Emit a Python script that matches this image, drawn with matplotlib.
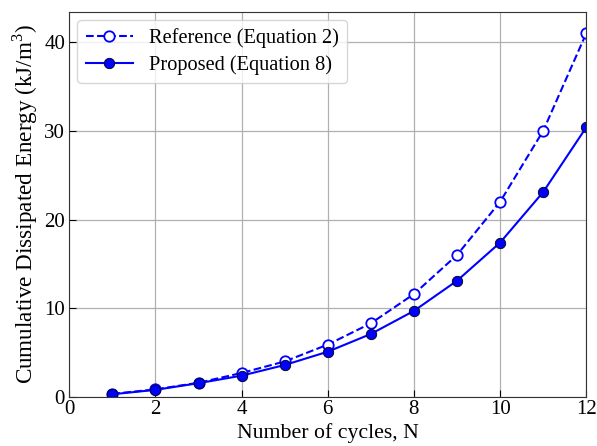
import matplotlib
matplotlib.use("Agg")
import matplotlib.pyplot as plt
import numpy as np

# Cycle numbers and cumulative dissipated energy (kJ/m^3)
cycles = np.arange(1, 13)
energy_reference = [0.35, 0.85, 1.6, 2.7, 4.0, 5.9, 8.3, 11.6, 16.0, 22.0, 30.0, 41.0]
energy_proposed = [0.3, 0.8, 1.55, 2.4, 3.6, 5.1, 7.1, 9.7, 13.1, 17.4, 23.1, 30.4]

plt.rcParams['font.family'] = ['Liberation Serif']
plt.rcParams['mathtext.fontset'] = 'custom'
plt.rcParams['mathtext.rm'] = 'Liberation Serif'

fig, ax = plt.subplots(figsize=(5.97, 4.46), dpi=100)

ax.plot(cycles, energy_reference, '--o', color='blue', lw=1.5, ms=7.5,
        markerfacecolor='white', markeredgecolor='blue', markeredgewidth=1.3,
        label='Reference (Equation 2)')
ax.plot(cycles, energy_proposed, '-o', color='blue', lw=1.5, ms=7.5,
        markerfacecolor='blue', markeredgecolor='black', markeredgewidth=0.6,
        label='Proposed (Equation 8)')

ax.set_xlim(0, 12)
ax.set_ylim(0, 43.4)
ax.set_xticks(np.arange(0, 13, 2))
ax.set_yticks(np.arange(0, 41, 10))
ax.grid(True, color='#b0b0b0', lw=0.9)
ax.set_axisbelow(True)
ax.tick_params(labelsize=15, direction='in', length=5)
ax.tick_params(axis='x', pad=2)
ax.tick_params(axis='y', pad=3)
for s in ax.spines.values():
    s.set_color('#333333')

ax.set_xlabel('Number of cycles, N', fontsize=15.7, labelpad=3)
ax.set_ylabel(r'Cumulative Dissipated Energy (kJ/m$^\mathrm{3}$)', fontsize=16.7, labelpad=3)
ax.legend(loc='upper left', fontsize=14.7, handlelength=2.3, labelspacing=0.35,
          borderaxespad=0.4)

plt.subplots_adjust(left=0.116, right=0.982, top=0.973, bottom=0.11)
plt.savefig('out.png', dpi=100)
plt.close()
